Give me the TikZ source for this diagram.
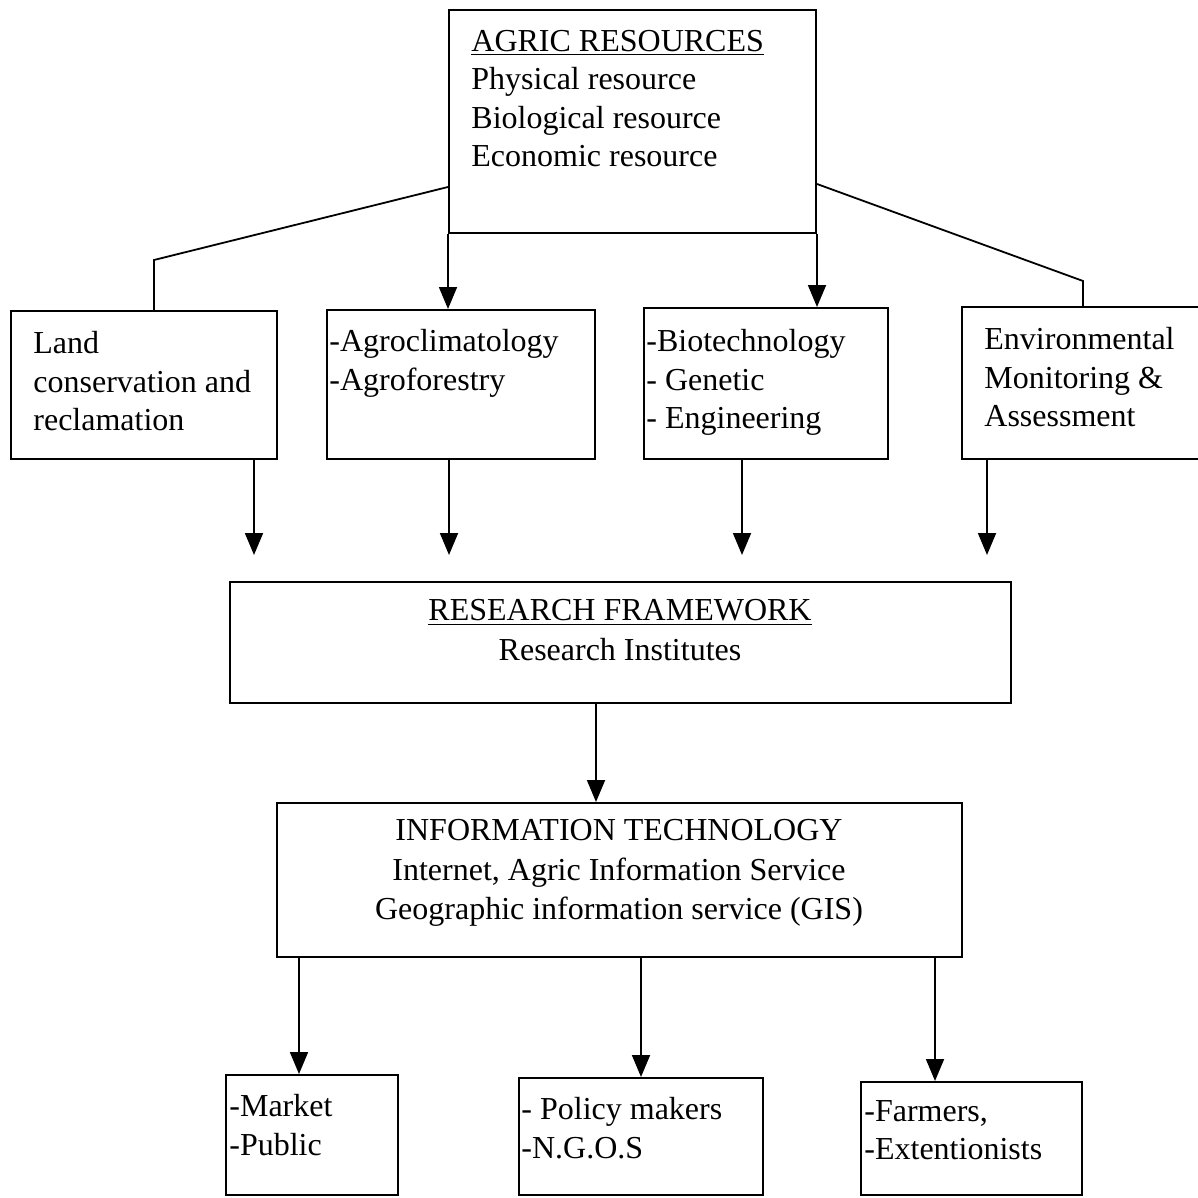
\documentclass[tikz,border=0pt]{standalone}
\usepackage{fontspec}
\setmainfont{Liberation Serif}
\usetikzlibrary{arrows.meta}
\begin{document}
\begin{tikzpicture}[x=0.5pt,y=-0.5pt,
 box/.style={draw, line width=1pt, inner sep=0pt},
 txt/.style={inner sep=0pt, align=left, font=\fontsize{16}{19.2}\selectfont},
 ctxt/.style={inner sep=0pt, align=center, font=\fontsize{16}{19.8}\selectfont},
 link/.style={line width=0.9pt},
 arr/.style={line width=0.9pt, -{Triangle[width=9pt,length=11pt]}}]
\useasboundingbox (0,0) rectangle (1198,1198);
\fill[white] (0,0) rectangle (1198,1198);

% boxes
\node[box, minimum width=183.5pt, minimum height=111.5pt] (top) at (632.5,121.5) {};
\node[box, minimum width=133pt, minimum height=74pt] (land) at (144,385) {};
\node[box, minimum width=134pt, minimum height=74.5pt] (agro) at (461,384.5) {};
\node[box, minimum width=122pt, minimum height=75.5pt] (bio) at (766,383.5) {};
\node[box, minimum width=126.5pt, minimum height=76pt] (env) at (1088.5,383) {};
\node[box, minimum width=390.5pt, minimum height=60.5pt] (research) at (620.5,642.5) {};
\node[box, minimum width=342.5pt, minimum height=77pt] (it) at (619.5,880) {};
\node[box, minimum width=86pt, minimum height=60pt] (b1) at (312,1135) {};
\node[box, minimum width=122pt, minimum height=58.5pt] (b2) at (641,1136.5) {};
\node[box, minimum width=110.5pt, minimum height=56.5pt] (b3) at (971.5,1138.5) {};

% texts
\node[txt, anchor=north west] (toptxt) at (471,30) {\underline{AGRIC RESOURCES}\\Physical resource\\Biological resource\\Economic resource};
\node[txt, anchor=north west] (landtxt) at (33,331) {Land\\conservation and\\reclamation};
\node[txt, anchor=north west] (agrotxt) at (329,329) {-Agroclimatology\\-Agroforestry};
\node[txt, anchor=north west] (biotxt) at (646,329) {-Biotechnology\\- Genetic\\- Engineering};
\node[txt, anchor=north west] (envtxt) at (984,327) {Environmental\\Monitoring \&\\Assessment};
\node[ctxt] (restxt) at (620,630) {\underline{RESEARCH FRAMEWORK}\\Research Institutes};
\node[ctxt] (ittxt) at (619,873) {INFORMATION TECHNOLOGY\\Internet, Agric Information Service\\Geographic information service (GIS)};
\node[txt, anchor=north west] (b1txt) at (229,1094) {-Market\\-Public};
\node[txt, anchor=north west] (b2txt) at (521,1097) {- Policy makers\\-N.G.O.S};
\node[txt, anchor=north west] (b3txt) at (864,1100) {-Farmers,\\-Extentionists};

% connectors from top box
\coordinate (bendL) at (154,260);
\coordinate (bendR) at (1083,281);
\draw[link] ([yshift=23.5pt]top.south west) -- (bendL) -- (bendL |- land.north);
\draw[link] ([yshift=25pt]top.south east) -- (bendR) -- (bendR |- env.north);
\draw[arr] (top.south west) -- (top.south west |- agro.north);
\draw[arr] (top.south east) -- (top.south east |- bio.north);

% second row arrows
\coordinate (r1) at (254,555);
\coordinate (r2) at (449,555);
\coordinate (r3) at (742,555);
\coordinate (r4) at (987,555);
\draw[arr] (land.south -| r1) -- (r1);
\draw[arr] (agro.south -| r2) -- (r2);
\draw[arr] (bio.south -| r3) -- (r3);
\draw[arr] (env.south -| r4) -- (r4);

% research -> IT
\draw[arr] ([xshift=-12.25pt]research.south) -- ([xshift=-12.25pt]research.south |- it.north);

% IT -> bottom
\draw[arr] ([xshift=-6.5pt]b1.north |- it.south) -- ([xshift=-6.5pt]b1.north);
\draw[arr] (b2.north |- it.south) -- (b2.north);
\draw[arr] ([xshift=-18.25pt]b3.north |- it.south) -- ([xshift=-18.25pt]b3.north);
\end{tikzpicture}
\end{document}
